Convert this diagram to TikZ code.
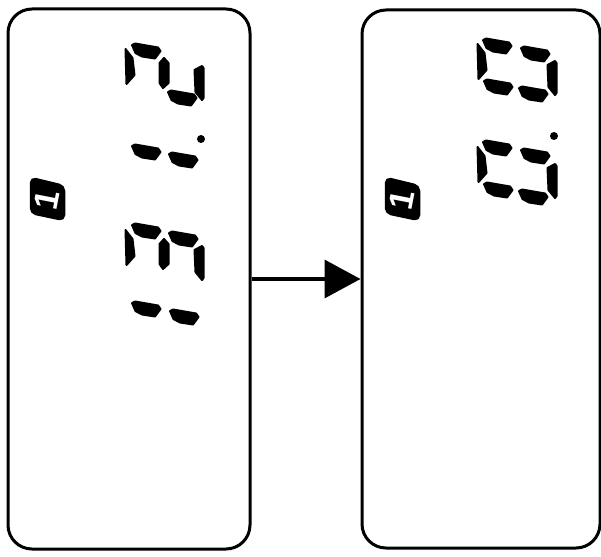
\documentclass[tikz,border=0pt]{standalone}
\usepackage{fontspec}
\setmainfont{Liberation Sans}
\usetikzlibrary{arrows.meta}
\tikzset{
  panel/.style={draw,line width=3pt,rounded corners=24pt,minimum height=540pt,inner sep=0pt},
  segm/.style={fill=black,draw=black,line width=2pt,line join=round},
  badge/.style={fill=black,draw=black,line width=2.5pt,line join=round,rounded corners=5pt},
  badgetext/.style={text=white,font=\bfseries\fontsize{34pt}{34pt}\selectfont,rotate=79,inner sep=0pt},
  flow/.style={line width=3.5pt,-{Triangle[length=36pt,width=38pt]}}
}
% display segments, drawn round their centre
\newcommand{\hseg}[2]{\draw[segm,shift={(#1,#2)}] (-14,-6) -- (-11,-7.5) -- (12,-3.5) -- (14.5,0) -- (9,7.5) -- (-4,5.5) -- (-10.5,2) -- cycle;}
\newcommand{\vsegl}[2]{\draw[segm,shift={(#1,#2)}] (-4.5,-18) -- (2.5,-9) -- (4.5,8) -- (-3.5,17) -- cycle;}
\newcommand{\vsegm}[2]{\draw[segm,shift={(#1,#2)}] (0,-15) -- (4.5,-10) -- (4.5,10) -- (-1,15) -- (-4.5,10) -- (-4.5,-10) -- cycle;}
\newcommand{\vsegr}[2]{\draw[segm,shift={(#1,#2)}] (3,-17) -- (4.5,-15) -- (4.5,15) -- (3,17) -- (-3.5,9) -- (-4.5,-13) -- cycle;}
\begin{document}
\begin{tikzpicture}[x=1pt,y=-1pt]
    \useasboundingbox (0,0) rectangle (601,556);

    % Panels
    \node[panel,minimum width=242pt] (panelL) at (129,279) {};
    \node[panel,minimum width=238pt,minimum height=538pt] (panelR) at (481,279) {};
    \draw[flow] (panelL.east) -- (panelR.west);

    % Left panel, upper digits
    \hseg{146}{51} \vsegl{130}{67} \vsegm{164}{73} \hseg{182}{98} \vsegr{199}{83}
    \hseg{146}{152} \hseg{183}{160}
    \fill (201,139) circle (4);

    % Left panel, lower digits
    \hseg{146}{231} \hseg{183}{239} \vsegl{130}{248} \vsegm{164}{254} \vsegr{199}{263}
    \hseg{146}{309} \hseg{184}{317}

    % Right panel, upper digits
    \hseg{497}{46} \hseg{535}{54} \vsegl{482}{62} \vsegr{552}{78} \hseg{498}{87} \hseg{533}{94}

    % Right panel, lower digits
    \hseg{497}{148} \hseg{535}{156} \vsegl{482}{165} \vsegr{552}{181} \hseg{498}{190} \hseg{533}{197}
    \fill (554,136) circle (4);

    % Badges
    \draw[badge] (31,178) -- (64,186) -- (64,220) -- (31,213) -- cycle;
    \node[badgetext] (badgeL) at (47,200) {1};
    \draw[badge] (386,178) -- (419,186) -- (419,220) -- (386,213) -- cycle;
    \node[badgetext] (badgeR) at (402,200) {1};
\end{tikzpicture}
\end{document}
